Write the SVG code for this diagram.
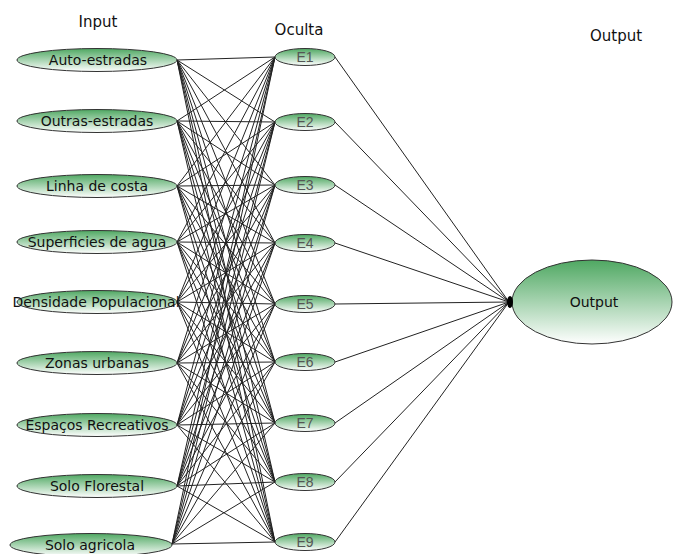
<svg xmlns="http://www.w3.org/2000/svg" width="674" height="554" viewBox="0 0 674 554">
<defs>
<linearGradient id="g" x1="0" y1="0" x2="0" y2="1">
<stop offset="0" stop-color="#4fa862"/>
<stop offset="1" stop-color="#ffffff"/>
</linearGradient>
<style>
.n{fill:url(#g);stroke:#333;stroke-width:1}
.t{font-family:"DejaVu Sans",Verdana,sans-serif;font-size:14px;fill:#111;text-anchor:middle}
.h{font-family:"Liberation Sans",Arial,sans-serif;font-size:14px;fill:#555;text-anchor:middle}
.hd{font-family:"DejaVu Sans",Verdana,sans-serif;font-size:15px;fill:#111;text-anchor:middle}
#c line{stroke:#222;stroke-width:1}
</style>
</defs>
<rect width="674" height="554" fill="#fff"/>
<text class="hd" x="98" y="27">Input</text>
<text class="hd" x="299" y="35">Oculta</text>
<text class="hd" x="616" y="41">Output</text>
<g id="c">
<line x1="177" y1="60" x2="275" y2="57"/><line x1="177" y1="60" x2="275" y2="122"/><line x1="177" y1="60" x2="275" y2="185"/><line x1="177" y1="60" x2="275" y2="243"/><line x1="177" y1="60" x2="275" y2="304"/><line x1="177" y1="60" x2="275" y2="362"/><line x1="177" y1="60" x2="275" y2="423"/><line x1="177" y1="60" x2="275" y2="482"/><line x1="177" y1="60" x2="275" y2="542"/>
<line x1="177" y1="121" x2="275" y2="57"/><line x1="177" y1="121" x2="275" y2="122"/><line x1="177" y1="121" x2="275" y2="185"/><line x1="177" y1="121" x2="275" y2="243"/><line x1="177" y1="121" x2="275" y2="304"/><line x1="177" y1="121" x2="275" y2="362"/><line x1="177" y1="121" x2="275" y2="423"/><line x1="177" y1="121" x2="275" y2="482"/><line x1="177" y1="121" x2="275" y2="542"/>
<line x1="177" y1="186" x2="275" y2="57"/><line x1="177" y1="186" x2="275" y2="122"/><line x1="177" y1="186" x2="275" y2="185"/><line x1="177" y1="186" x2="275" y2="243"/><line x1="177" y1="186" x2="275" y2="304"/><line x1="177" y1="186" x2="275" y2="362"/><line x1="177" y1="186" x2="275" y2="423"/><line x1="177" y1="186" x2="275" y2="482"/><line x1="177" y1="186" x2="275" y2="542"/>
<line x1="177" y1="242" x2="275" y2="57"/><line x1="177" y1="242" x2="275" y2="122"/><line x1="177" y1="242" x2="275" y2="185"/><line x1="177" y1="242" x2="275" y2="243"/><line x1="177" y1="242" x2="275" y2="304"/><line x1="177" y1="242" x2="275" y2="362"/><line x1="177" y1="242" x2="275" y2="423"/><line x1="177" y1="242" x2="275" y2="482"/><line x1="177" y1="242" x2="275" y2="542"/>
<line x1="177" y1="302" x2="275" y2="57"/><line x1="177" y1="302" x2="275" y2="122"/><line x1="177" y1="302" x2="275" y2="185"/><line x1="177" y1="302" x2="275" y2="243"/><line x1="177" y1="302" x2="275" y2="304"/><line x1="177" y1="302" x2="275" y2="362"/><line x1="177" y1="302" x2="275" y2="423"/><line x1="177" y1="302" x2="275" y2="482"/><line x1="177" y1="302" x2="275" y2="542"/>
<line x1="177" y1="363" x2="275" y2="57"/><line x1="177" y1="363" x2="275" y2="122"/><line x1="177" y1="363" x2="275" y2="185"/><line x1="177" y1="363" x2="275" y2="243"/><line x1="177" y1="363" x2="275" y2="304"/><line x1="177" y1="363" x2="275" y2="362"/><line x1="177" y1="363" x2="275" y2="423"/><line x1="177" y1="363" x2="275" y2="482"/><line x1="177" y1="363" x2="275" y2="542"/>
<line x1="177" y1="425" x2="275" y2="57"/><line x1="177" y1="425" x2="275" y2="122"/><line x1="177" y1="425" x2="275" y2="185"/><line x1="177" y1="425" x2="275" y2="243"/><line x1="177" y1="425" x2="275" y2="304"/><line x1="177" y1="425" x2="275" y2="362"/><line x1="177" y1="425" x2="275" y2="423"/><line x1="177" y1="425" x2="275" y2="482"/><line x1="177" y1="425" x2="275" y2="542"/>
<line x1="177" y1="486" x2="275" y2="57"/><line x1="177" y1="486" x2="275" y2="122"/><line x1="177" y1="486" x2="275" y2="185"/><line x1="177" y1="486" x2="275" y2="243"/><line x1="177" y1="486" x2="275" y2="304"/><line x1="177" y1="486" x2="275" y2="362"/><line x1="177" y1="486" x2="275" y2="423"/><line x1="177" y1="486" x2="275" y2="482"/><line x1="177" y1="486" x2="275" y2="542"/>
<line x1="172" y1="544" x2="275" y2="57"/><line x1="172" y1="544" x2="275" y2="122"/><line x1="172" y1="544" x2="275" y2="185"/><line x1="172" y1="544" x2="275" y2="243"/><line x1="172" y1="544" x2="275" y2="304"/><line x1="172" y1="544" x2="275" y2="362"/><line x1="172" y1="544" x2="275" y2="423"/><line x1="172" y1="544" x2="275" y2="482"/><line x1="172" y1="544" x2="275" y2="542"/>
<line x1="335" y1="57" x2="509" y2="302"/><line x1="335" y1="122" x2="509" y2="302"/><line x1="335" y1="185" x2="509" y2="302"/><line x1="335" y1="243" x2="509" y2="302"/><line x1="335" y1="304" x2="509" y2="302"/><line x1="335" y1="362" x2="509" y2="302"/><line x1="335" y1="423" x2="509" y2="302"/><line x1="335" y1="482" x2="509" y2="302"/><line x1="335" y1="542" x2="509" y2="302"/>
</g>
<g id="in1"><ellipse class="n" cx="97" cy="60" rx="80" ry="11.5"/><text class="t" x="98" y="65">Auto-estradas</text></g>
<g id="in2"><ellipse class="n" cx="97" cy="121" rx="80" ry="11.5"/><text class="t" x="97" y="126">Outras-estradas</text></g>
<g id="in3"><ellipse class="n" cx="97" cy="186" rx="80" ry="11.5"/><text class="t" x="97" y="191">Linha de costa</text></g>
<g id="in4"><ellipse class="n" cx="97" cy="242" rx="80" ry="11.5"/><text class="t" x="97" y="247">Superficies de agua</text></g>
<g id="in5"><ellipse class="n" cx="97" cy="302" rx="80" ry="11.5"/><text class="t" x="96" y="307">Densidade Populacional</text></g>
<g id="in6"><ellipse class="n" cx="97" cy="363" rx="80" ry="11.5"/><text class="t" x="97" y="368">Zonas urbanas</text></g>
<g id="in7"><ellipse class="n" cx="97" cy="425" rx="80" ry="11.5"/><text class="t" x="97" y="430">Espaços Recreativos</text></g>
<g id="in8"><ellipse class="n" cx="97" cy="486" rx="80" ry="11.5"/><text class="t" x="97" y="491">Solo Florestal</text></g>
<g id="in9"><ellipse class="n" cx="91" cy="545" rx="81" ry="11.5"/><text class="t" x="90" y="550">Solo agricola</text></g>
<g id="e1"><ellipse class="n" cx="305" cy="57" rx="30" ry="8.5"/><text class="h" x="305" y="62">E1</text></g>
<g id="e2"><ellipse class="n" cx="305" cy="122" rx="30" ry="8.5"/><text class="h" x="305" y="127">E2</text></g>
<g id="e3"><ellipse class="n" cx="305" cy="185" rx="30" ry="8.5"/><text class="h" x="305" y="190">E3</text></g>
<g id="e4"><ellipse class="n" cx="305" cy="243" rx="30" ry="8.5"/><text class="h" x="305" y="248">E4</text></g>
<g id="e5"><ellipse class="n" cx="305" cy="304" rx="30" ry="8.5"/><text class="h" x="305" y="309">E5</text></g>
<g id="e6"><ellipse class="n" cx="305" cy="362" rx="30" ry="8.5"/><text class="h" x="305" y="367">E6</text></g>
<g id="e7"><ellipse class="n" cx="305" cy="423" rx="30" ry="8.5"/><text class="h" x="305" y="428">E7</text></g>
<g id="e8"><ellipse class="n" cx="305" cy="482" rx="30" ry="8.5"/><text class="h" x="305" y="487">E8</text></g>
<g id="e9"><ellipse class="n" cx="305" cy="542" rx="30" ry="8.5"/><text class="h" x="305" y="547">E9</text></g>
<g id="out"><ellipse class="n" cx="592" cy="302" rx="80" ry="42"/><ellipse cx="510" cy="302" rx="3" ry="6" fill="#000"/><text class="t" x="594" y="307">Output</text></g>
</svg>
